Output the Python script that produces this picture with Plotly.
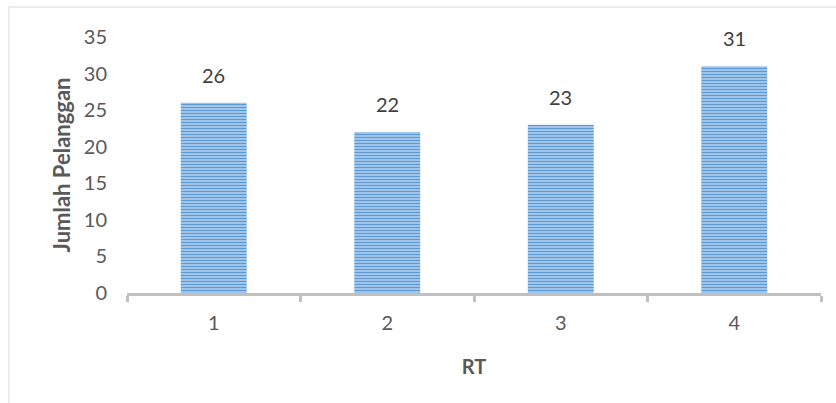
import plotly.graph_objects as go

categories = ["1", "2", "3", "4"]
values = [26, 22, 23, 31]
y_ticks = [0, 5, 10, 15, 20, 25, 30, 35]

fig = go.Figure()
fig.add_trace(go.Bar(
    x=categories, y=values, width=0.38,
    marker=dict(
        color="#cfe0f3",
        line=dict(width=0),
        pattern=dict(shape="-", size=3, solidity=0.62, fgcolor="#5b9bd5", bgcolor="#d3e3f5", fillmode="replace"),
    ),
    hoverinfo="skip",
))

for i, v in enumerate(values):
    fig.add_annotation(x=i, y=v, text=str(v), showarrow=False, yanchor="bottom", yshift=14,
                       font=dict(family="Lato", size=20, color="#404040"))

fig.add_shape(type="line", xref="paper", yref="paper", x0=(9 - 127) / 694, x1=(836 - 127) / 694 + 0.05,
              y0=(293 - 7) / 256, y1=(293 - 7) / 256, line=dict(color="#d9d9d9", width=1))
fig.add_shape(type="line", xref="paper", yref="paper", x0=(9 - 127) / 694, x1=(9 - 127) / 694,
              y0=(293 - 7) / 256, y1=-0.5, line=dict(color="#d9d9d9", width=1))

fig.update_layout(
    width=836, height=403,
    margin=dict(l=127, r=15, t=37, b=110),
    paper_bgcolor="white", plot_bgcolor="white",
    showlegend=False,
    font=dict(family="Lato", size=20, color="#595959"),
)
fig.update_xaxes(
    type="category", range=[-0.5, 3.5], showline=True, linecolor="#c0c0c0", linewidth=3,
    ticks="outside", tickson="boundaries", ticklen=6, tickcolor="#c0c0c0", tickwidth=3,
    showgrid=False, tickfont=dict(size=20, color="#595959"), ticklabelstandoff=10,
    title=dict(text="<b>RT</b>", font=dict(size=20, color="#595959"), standoff=27),
    automargin=False,
)
fig.update_yaxes(
    range=[0, 35], tickvals=y_ticks, showline=False, showgrid=False, zeroline=False,
    ticks="", tickfont=dict(size=20, color="#595959"), ticklabelstandoff=19,
    title=dict(text="<b>Jumlah Pelanggan</b>", font=dict(size=22, color="#595959"), standoff=7),
    automargin=False,
)

fig.write_html("out.html")
